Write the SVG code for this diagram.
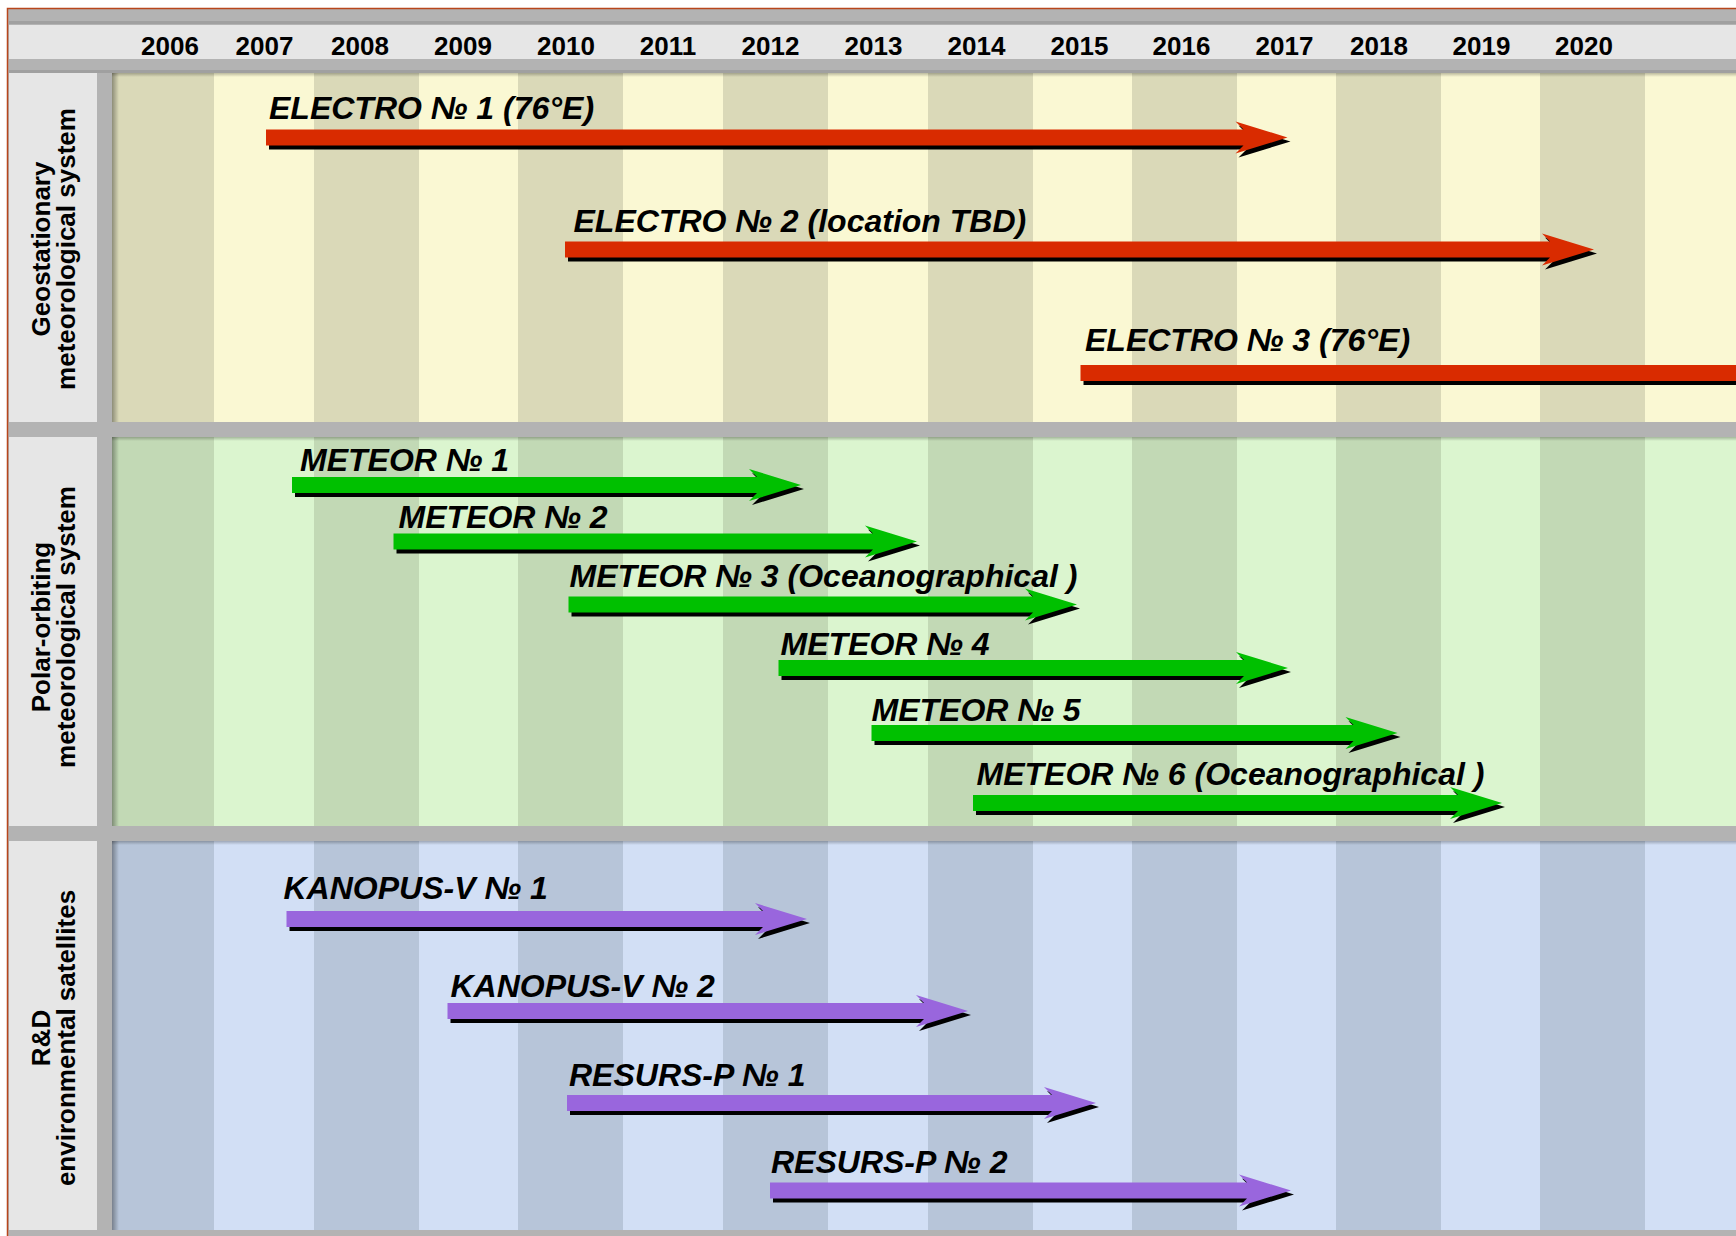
<svg xmlns="http://www.w3.org/2000/svg" width="1736" height="1236" viewBox="0 0 1736 1236">
<defs>
<style>
.yr{font-family:"Liberation Sans",Arial,sans-serif;font-weight:bold;font-size:26px;fill:#000;text-anchor:middle}
.lbl{font-family:"Liberation Sans",Arial,sans-serif;font-weight:bold;font-style:italic;font-size:32px;fill:#000}
.cat{font-family:"Liberation Sans",Arial,sans-serif;font-weight:bold;font-size:26px;fill:#000;text-anchor:middle}
.sh{fill:#000}
.red{fill:#d92b00}
.grn{fill:#00c000}
.pur{fill:#9966dd}
.gray{fill:#b3b3b3}
.pan{fill:#e6e6e6}
.l1{fill:#faf8d3}.d1{fill:#dad9b8}
.l2{fill:#dbf5cf}.d2{fill:#c2d9b5}
.l3{fill:#d2dff5}.d3{fill:#b7c5d9}
</style>
<linearGradient id="shL" x1="0" y1="0" x2="1" y2="0">
<stop offset="0" stop-color="#000" stop-opacity="0.35"/>
<stop offset="1" stop-color="#000" stop-opacity="0"/>
</linearGradient>
<linearGradient id="shT" x1="0" y1="0" x2="0" y2="1">
<stop offset="0" stop-color="#000" stop-opacity="0.25"/>
<stop offset="1" stop-color="#000" stop-opacity="0"/>
</linearGradient>
</defs>

<g id="background">
<rect x="0" y="0" width="1736" height="1236" fill="#fff"/>
<rect class="gray" x="8" y="9" width="1728" height="1227"/>
<path d="M7.5,1236 V8.5 H1736" fill="none" stroke="#b8461c" stroke-width="1.5"/>
<rect x="9" y="21" width="1727" height="3" fill="#000" opacity="0.1"/>
<rect class="pan" x="9" y="25" width="1727" height="34"/>
<rect x="9" y="70" width="1727" height="3" fill="#000" opacity="0.1"/>
<rect class="pan" x="9" y="73" width="88" height="349"/>
<rect class="pan" x="9" y="437" width="88" height="389"/>
<rect class="pan" x="9" y="841" width="88" height="389"/>
</g>

<g id="section1">
<rect class="l1" x="112" y="73" width="1624" height="349"/>
<rect class="d1" x="112" y="73" width="102" height="349"/>
<rect class="d1" x="314" y="73" width="105" height="349"/>
<rect class="d1" x="518" y="73" width="105" height="349"/>
<rect class="d1" x="723" y="73" width="105" height="349"/>
<rect class="d1" x="928" y="73" width="105" height="349"/>
<rect class="d1" x="1132" y="73" width="105" height="349"/>
<rect class="d1" x="1336" y="73" width="105" height="349"/>
<rect class="d1" x="1540" y="73" width="105" height="349"/>
<rect x="112" y="73" width="7" height="349" fill="url(#shL)"/>
<rect x="112" y="73" width="1624" height="4" fill="url(#shT)"/>
</g>
<g id="section2">
<rect class="l2" x="112" y="437" width="1624" height="389"/>
<rect class="d2" x="112" y="437" width="102" height="389"/>
<rect class="d2" x="314" y="437" width="105" height="389"/>
<rect class="d2" x="518" y="437" width="105" height="389"/>
<rect class="d2" x="723" y="437" width="105" height="389"/>
<rect class="d2" x="928" y="437" width="105" height="389"/>
<rect class="d2" x="1132" y="437" width="105" height="389"/>
<rect class="d2" x="1336" y="437" width="105" height="389"/>
<rect class="d2" x="1540" y="437" width="105" height="389"/>
<rect x="112" y="437" width="7" height="389" fill="url(#shL)"/>
<rect x="112" y="437" width="1624" height="4" fill="url(#shT)"/>
</g>
<g id="section3">
<rect class="l3" x="112" y="841" width="1624" height="389"/>
<rect class="d3" x="112" y="841" width="102" height="389"/>
<rect class="d3" x="314" y="841" width="105" height="389"/>
<rect class="d3" x="518" y="841" width="105" height="389"/>
<rect class="d3" x="723" y="841" width="105" height="389"/>
<rect class="d3" x="928" y="841" width="105" height="389"/>
<rect class="d3" x="1132" y="841" width="105" height="389"/>
<rect class="d3" x="1336" y="841" width="105" height="389"/>
<rect class="d3" x="1540" y="841" width="105" height="389"/>
<rect x="112" y="841" width="7" height="389" fill="url(#shL)"/>
<rect x="112" y="841" width="1624" height="4" fill="url(#shT)"/>
</g>

<g id="years">
<text class="yr" x="170" y="55">2006</text>
<text class="yr" x="264.5" y="55">2007</text>
<text class="yr" x="360" y="55">2008</text>
<text class="yr" x="463" y="55">2009</text>
<text class="yr" x="566" y="55">2010</text>
<text class="yr" x="668" y="55">2011</text>
<text class="yr" x="770.5" y="55">2012</text>
<text class="yr" x="873.5" y="55">2013</text>
<text class="yr" x="976.5" y="55">2014</text>
<text class="yr" x="1079.5" y="55">2015</text>
<text class="yr" x="1181.5" y="55">2016</text>
<text class="yr" x="1284.5" y="55">2017</text>
<text class="yr" x="1379" y="55">2018</text>
<text class="yr" x="1481.5" y="55">2019</text>
<text class="yr" x="1584" y="55">2020</text>
</g>

<g id="categories">
<text class="cat" transform="translate(0,249) rotate(-90)"><tspan x="0" y="50">Geostationary</tspan><tspan x="0" y="75">meteorological system</tspan></text>
<text class="cat" transform="translate(0,627) rotate(-90)"><tspan x="0" y="50">Polar-orbiting</tspan><tspan x="0" y="75">meteorological system</tspan></text>
<text class="cat" transform="translate(0,1038) rotate(-90)"><tspan x="0" y="50">R&amp;D</tspan><tspan x="0" y="75">environmental satellites</tspan></text>
</g>

<g id="electro1">
<path class="sh" transform="translate(3,4)" d="M266,129.5 H1243.5 L1235.5,121.5 L1287.5,137.5 L1235.5,153.5 L1243.5,145.5 H266 Z"/>
<path class="red" d="M266,129.5 H1243.5 L1235.5,121.5 L1287.5,137.5 L1235.5,153.5 L1243.5,145.5 H266 Z"/>
<text class="lbl" x="269" y="118.5">ELECTRO № 1 (76°E)</text>
</g>
<g id="electro2">
<path class="sh" transform="translate(3,4)" d="M565,241.5 H1550 L1542,233.5 L1594,249.5 L1542,265.5 L1550,257.5 H565 Z"/>
<path class="red" d="M565,241.5 H1550 L1542,233.5 L1594,249.5 L1542,265.5 L1550,257.5 H565 Z"/>
<text class="lbl" x="573.5" y="232">ELECTRO № 2 (location TBD)</text>
</g>
<g id="electro3">
<path class="sh" transform="translate(3,4)" d="M1080.5,365 H1740 V381 H1080.5 Z"/>
<path class="red" d="M1080.5,365 H1740 V381 H1080.5 Z"/>
<text class="lbl" x="1085" y="351">ELECTRO № 3 (76°E)</text>
</g>

<g id="meteor1">
<path class="sh" transform="translate(3,4)" d="M292,477 H757 L749,469 L801,485 L749,501 L757,493 H292 Z"/>
<path class="grn" d="M292,477 H757 L749,469 L801,485 L749,501 L757,493 H292 Z"/>
<text class="lbl" x="300" y="471">METEOR № 1</text>
</g>
<g id="meteor2">
<path class="sh" transform="translate(3,4)" d="M393.5,533.5 H873 L865,525.5 L917,541.5 L865,557.5 L873,549.5 H393.5 Z"/>
<path class="grn" d="M393.5,533.5 H873 L865,525.5 L917,541.5 L865,557.5 L873,549.5 H393.5 Z"/>
<text class="lbl" x="398.5" y="528">METEOR № 2</text>
</g>
<g id="meteor3">
<path class="sh" transform="translate(3,4)" d="M568.5,596.5 H1033 L1025,588.5 L1077,604.5 L1025,620.5 L1033,612.5 H568.5 Z"/>
<path class="grn" d="M568.5,596.5 H1033 L1025,588.5 L1077,604.5 L1025,620.5 L1033,612.5 H568.5 Z"/>
<text class="lbl" x="569.5" y="586.5">METEOR № 3 (Oceanographical )</text>
</g>
<g id="meteor4">
<path class="sh" transform="translate(3,4)" d="M778.5,660 H1244 L1236,652 L1288,668 L1236,684 L1244,676 H778.5 Z"/>
<path class="grn" d="M778.5,660 H1244 L1236,652 L1288,668 L1236,684 L1244,676 H778.5 Z"/>
<text class="lbl" x="780.5" y="655">METEOR № 4</text>
</g>
<g id="meteor5">
<path class="sh" transform="translate(3,4)" d="M871.5,725 H1353.5 L1345.5,717 L1397.5,733 L1345.5,749 L1353.5,741 H871.5 Z"/>
<path class="grn" d="M871.5,725 H1353.5 L1345.5,717 L1397.5,733 L1345.5,749 L1353.5,741 H871.5 Z"/>
<text class="lbl" x="871.5" y="720.5">METEOR № 5</text>
</g>
<g id="meteor6">
<path class="sh" transform="translate(3,4)" d="M973,795 H1458 L1450,787 L1502,803 L1450,819 L1458,811 H973 Z"/>
<path class="grn" d="M973,795 H1458 L1450,787 L1502,803 L1450,819 L1458,811 H973 Z"/>
<text class="lbl" x="976.5" y="785">METEOR № 6 (Oceanographical )</text>
</g>

<g id="kanopus1">
<path class="sh" transform="translate(3,4)" d="M286.5,911 H763 L755,903 L807,919 L755,935 L763,927 H286.5 Z"/>
<path class="pur" d="M286.5,911 H763 L755,903 L807,919 L755,935 L763,927 H286.5 Z"/>
<text class="lbl" x="283.5" y="899">KANOPUS-V № 1</text>
</g>
<g id="kanopus2">
<path class="sh" transform="translate(3,4)" d="M447.5,1003 H924 L916,995 L968,1011 L916,1027 L924,1019 H447.5 Z"/>
<path class="pur" d="M447.5,1003 H924 L916,995 L968,1011 L916,1027 L924,1019 H447.5 Z"/>
<text class="lbl" x="450.5" y="996.5">KANOPUS-V № 2</text>
</g>
<g id="resurs1">
<path class="sh" transform="translate(3,4)" d="M567,1095 H1052 L1044,1087 L1096,1103 L1044,1119 L1052,1111 H567 Z"/>
<path class="pur" d="M567,1095 H1052 L1044,1087 L1096,1103 L1044,1119 L1052,1111 H567 Z"/>
<text class="lbl" x="569" y="1086">RESURS-P № 1</text>
</g>
<g id="resurs2">
<path class="sh" transform="translate(3,4)" d="M770,1182.5 H1247 L1239,1174.5 L1291,1190.5 L1239,1206.5 L1247,1198.5 H770 Z"/>
<path class="pur" d="M770,1182.5 H1247 L1239,1174.5 L1291,1190.5 L1239,1206.5 L1247,1198.5 H770 Z"/>
<text class="lbl" x="771" y="1173">RESURS-P № 2</text>
</g>
</svg>
